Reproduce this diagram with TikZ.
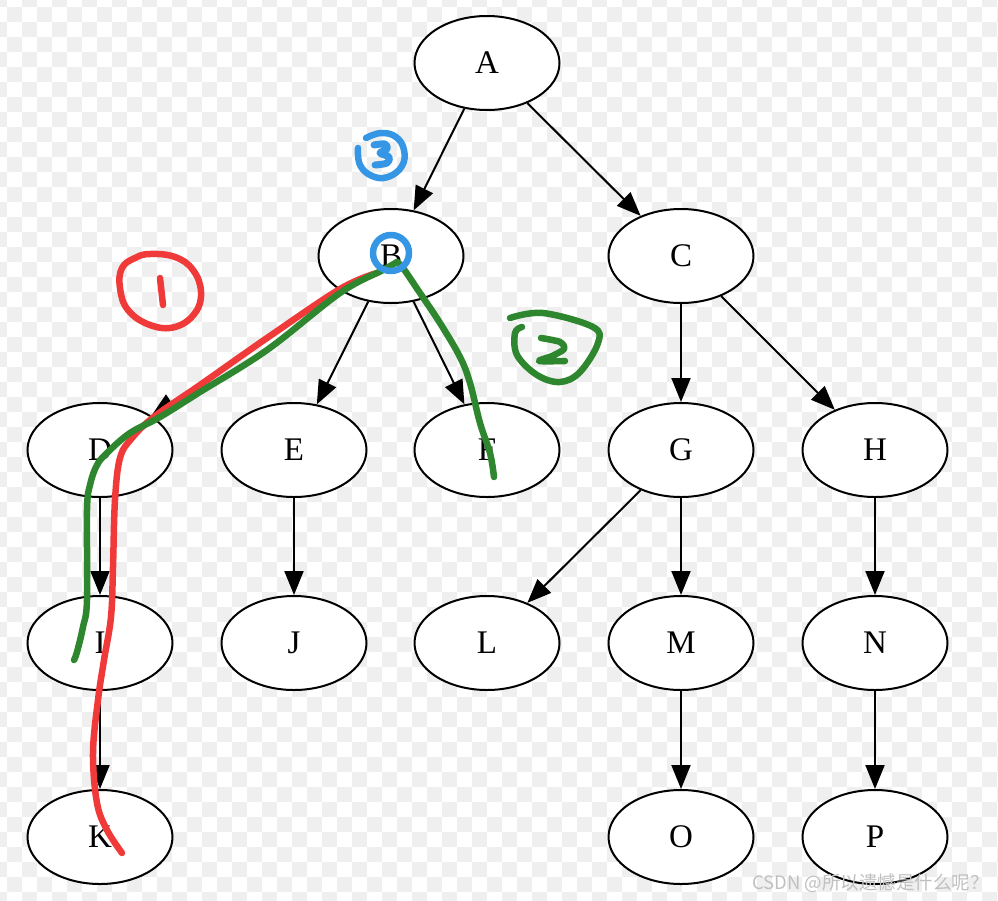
\documentclass[tikz,border=0pt]{standalone}
\usepackage{fontspec}
\setmainfont{Liberation Serif}
\newfontfamily\cjkfont{Noto Sans CJK SC}
\usetikzlibrary{shapes.geometric,arrows.meta}
\definecolor{checkgray}{RGB}{239,239,239}
\definecolor{hred}{RGB}{240,58,58}
\definecolor{hgreen}{RGB}{46,135,46}
\definecolor{hblue}{RGB}{52,150,228}
\definecolor{wmgray}{RGB}{192,192,192}
\tikzset{
  gnode/.style={ellipse, draw=black, fill=white, line width=2pt,
    minimum width=145pt, minimum height=94pt, inner sep=0pt,
    font=\fontsize{33}{33}\selectfont},
  edge/.style={line width=2pt, -{Triangle[length=24pt,width=19pt]}},
  hand/.style={line width=6.5pt, line cap=round, line join=round},
}
\begin{document}
\begin{tikzpicture}[x=1pt,y=-1pt]
\useasboundingbox (0,0) rectangle (998,900);
\begin{scope}
  \clip (0,0) rectangle (998,900);
  \fill[white] (0,0) rectangle (998,900);
  \foreach \j in {0,...,60}{
    \pgfmathtruncatemacro\s{mod(\j,2)}
    \foreach \k in {0,...,33}{
      \fill[checkgray] ({-8+15*(2*\k+\s)},{-8+15*\j}) rectangle ++(15,15);
    }
  }
\end{scope}
% nodes
\node[gnode] (A) at (487,63) {A};
\node[gnode] (B) at (391,256) {B};
\node[gnode] (C) at (681,256) {C};
\node[gnode] (D) at (100,450) {D};
\node[gnode] (E) at (294,450) {E};
\node[gnode] (F) at (487,450) {F};
\node[gnode] (G) at (681,450) {G};
\node[gnode] (H) at (875,450) {H};
\node[gnode] (I) at (100,643) {I};
\node[gnode] (J) at (294,643) {J};
\node[gnode] (L) at (487,643) {L};
\node[gnode] (M) at (681,643) {M};
\node[gnode] (N) at (875,643) {N};
\node[gnode] (K) at (100,837) {K};
\node[gnode] (O) at (681,837) {O};
\node[gnode] (P) at (875,837) {P};
% edges
\draw[edge] (A) -- (B);
\draw[edge] (A) -- (C);
\draw[edge] (B) -- (D);
\draw[edge] (B) -- (E);
\draw[edge] (B) -- (F);
\draw[edge] (C) -- (G);
\draw[edge] (C) -- (H);
\draw[edge] (D) -- (I);
\draw[edge] (E) -- (J);
\draw[edge] (G) -- (L);
\draw[edge] (G) -- (M);
\draw[edge] (H) -- (N);
\draw[edge] (I) -- (K);
\draw[edge] (M) -- (O);
\draw[edge] (N) -- (P);
% hand-drawn annotations
\draw[hand, hred] plot[smooth, tension=0.6] coordinates {(377,273) (340,289) (267,338) (200,385) (155,416) (132,438) (120,458) (115,500) (113,567) (111,617) (104,660) (98,700) (93,753) (97,803) (107,830) (122,853)};
\draw[hand, hgreen] plot[smooth, tension=0.6] coordinates {(397,262) (383,270) (340,293) (267,350) (200,392) (160,417) (130,433) (108,452) (97,465) (90,485) (87,510) (87,600) (83,627) (77,652) (74,660)};
\draw[hand, hgreen] plot[smooth, tension=0.6] coordinates {(397,262) (403,268) (420,293) (440,323) (460,357) (470,383) (480,423) (490,453) (494,477)};
\draw[hand, hblue] (391,253) circle[radius=18];
\draw[hand, hblue] plot[smooth, tension=0.7] coordinates {(358,148) (360,165) (372,176) (388,177) (402,166) (404,150) (396,137) (381,133) (366,138)};
\draw[hand, hblue, line width=7pt] plot[smooth, tension=0.6] coordinates {(374,145) (385,144) (387,149) (380,153) (389,157) (387,163) (375,165)};
\draw[hand, hred] plot[smooth cycle, tension=0.7] coordinates {(122,268) (120,288) (128,310) (150,325) (175,327) (195,313) (201,292) (193,270) (175,257) (150,254) (135,258)};
\draw[hand, hred] (160,278) -- (163,305);
\draw[hand, hgreen] plot[smooth, tension=0.6] coordinates {(510,318) (543,313) (593,327) (598,343) (580,372) (560,382) (537,375) (517,355) (515,333) (522,327)};
\draw[hand, hgreen] plot[smooth, tension=0.5] coordinates {(541,338) (560,342) (564,349) (552,356) (539,361) (565,361)};
% watermark
\node[anchor=east, text=wmgray, inner sep=0pt, font=\cjkfont\fontsize{18.5}{18.5}\selectfont] (wm) at (989,883) {CSDN @所以遗憾是什么呢？};
\end{tikzpicture}
\end{document}
